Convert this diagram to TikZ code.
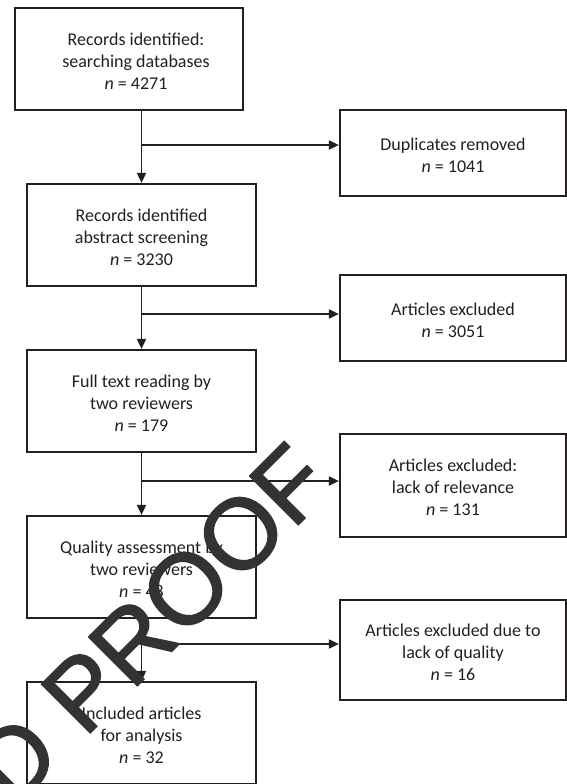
\documentclass[tikz,border=0pt]{standalone}
\usepackage{fontspec}
\setmainfont{Carlito}
\newfontfamily\wmfont[FakeBold=1.5]{Liberation Sans}
\usetikzlibrary{arrows.meta}
\definecolor{ink}{HTML}{231F20}
\begin{document}
\begin{tikzpicture}[x=1pt,y=-1pt,
  box/.style={draw=ink, line width=2.2pt, rectangle, inner sep=0pt},
  lbox/.style={box, minimum width=229pt, minimum height=102pt},
  rbox/.style={box, minimum width=226pt},
  txt/.style={align=center, text=ink, font=\fontsize{18}{22}\selectfont, inner sep=0pt, yshift=-2pt},
  conn/.style={draw=ink, line width=1.8pt},
  arr/.style={conn, -{Triangle[length=10pt,width=9pt]}}
]
\useasboundingbox (0,0) rectangle (567,784);

% left column boxes
\node[box, minimum width=228pt, minimum height=102pt] (b1) at (129,59) {};
\node[lbox] (b2) at (141.5,235) {};
\node[lbox] (b3) at (141.5,401) {};
\node[lbox] (b4) at (141.5,567) {};
\node[lbox] (b5) at (141.5,733) {};

% right column boxes
\node[rbox, minimum height=86pt] (r1) at (453,153) {};
\node[rbox, minimum height=86pt] (r2) at (453,318) {};
\node[rbox, minimum height=103pt] (r3) at (453,485.5) {};
\node[rbox, minimum height=100pt] (r4) at (453,650) {};

% texts
\node[txt] (t1) at (136,59) {Records identified:\\searching databases\\\textit{n} = 4271};
\node[txt] (t2) at (b2.center) {Records identified\\abstract screening\\\textit{n} = 3230};
\node[txt] (t3) at (b3.center) {Full text reading by\\two reviewers\\\textit{n} = 179};
\node[txt] (t4) at (b4.center) {Quality assessment by\\two reviewers\\\textit{n} = 48};
\node[txt] (t5) at (b5.center) {Included articles\\for analysis\\\textit{n} = 32};
\node[txt] (t6) at (r1.center) {Duplicates removed\\\textit{n} = 1041};
\node[txt] (t7) at (r2.center) {Articles excluded\\\textit{n} = 3051};
\node[txt] (t8) at (r3.center) {Articles excluded:\\lack of relevance\\\textit{n} = 131};
\node[txt] (t9) at (r4.center) {Articles excluded due to\\lack of quality\\\textit{n} = 16};

% junctions
\coordinate (j1) at (141.5,145);
\coordinate (j2) at (141.5,314);
\coordinate (j3) at (141.5,481);
\coordinate (j4) at (141.5,644);

% vertical arrows
\draw[arr] (b1.south -| b2.north) -- (b2.north);
\draw[arr] (b2.south) -- (b3.north);
\draw[arr] (b3.south) -- (b4.north);
\draw[arr] (b4.south) -- (b5.north);

% side arrows
\draw[arr] (j1) -- (j1 -| r1.west);
\draw[arr] (j2) -- (j2 -| r2.west);
\draw[arr] (j3) -- (j3 -| r3.west);
\draw[arr] (j4) -- (j4 -| r4.west);

% watermark
\node[rotate=45, anchor=base east, inner sep=0pt, text=black!80,
      font=\fontsize{100}{100}\selectfont\wmfont] (wm) at (336,487) {ED PROOF};
\end{tikzpicture}
\end{document}
